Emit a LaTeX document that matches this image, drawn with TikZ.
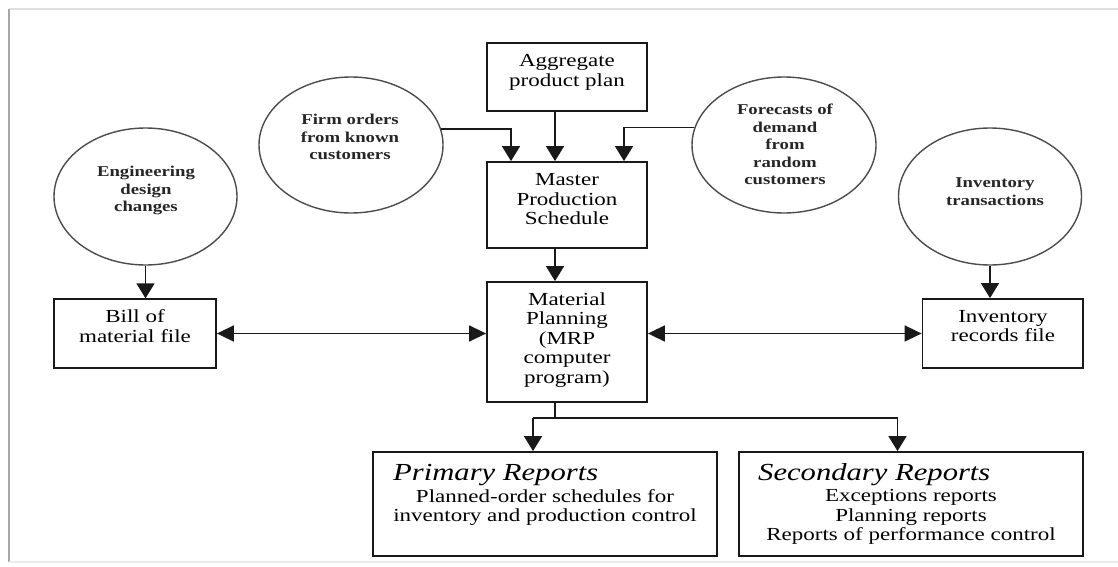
\documentclass[tikz,border=0pt]{standalone}
\usepackage{fontspec}
\setmainfont{Liberation Serif}[FakeStretch=1.25]
\usetikzlibrary{arrows.meta,shapes.geometric}
\begin{document}
\begin{tikzpicture}[x=1pt,y=-1pt,
  box/.style={draw=black!90,fill=white,line width=1.8pt,rectangle,inner sep=0pt},
  oval/.style={draw=black!70,fill=white,line width=1.4pt,ellipse,inner sep=0pt},
  btxt/.style={align=center,font=\fontsize{18.4}{19.5}\selectfont,inner sep=0pt},
  etxt/.style={align=center,font=\bfseries\fontsize{15}{17.5}\selectfont,text=black!85,inner sep=0pt},
  head/.style={font=\itshape\fontsize{24.5}{26}\selectfont,inner sep=0pt,anchor=base west},
  link/.style={line width=1.6pt,draw=black!90},
  arr/.style={link,-{Triangle[width=18pt,length=15pt]}},
  darr/.style={link,{Triangle[width=16pt,length=17pt]}-{Triangle[width=16pt,length=17pt]}},
]
\useasboundingbox (0,0) rectangle (1118,567);
% page frame
\draw[black!12,line width=1.5pt] (9,9) -- (1118,9);
\draw[black!35,line width=2pt] (9,9) -- (9,562);
\draw[black!8,line width=1.2pt] (9,562) -- (1118,562);

% boxes
\node[box,minimum width=160pt,minimum height=68pt] (agg) at (567,77) {};
\node[box,minimum width=160pt,minimum height=86pt] (mps) at (567,205) {};
\node[box,minimum width=160pt,minimum height=120pt] (mrp) at (567,342) {};
\node[box,minimum width=162pt,minimum height=68.5pt] (bom) at (135,333.5) {};
\node[box,minimum width=160.5pt,minimum height=69pt] (inv) at (1002.75,333.5) {};
\node[box,minimum width=344pt,minimum height=104pt] (prim) at (545,504) {};
\node[box,minimum width=344pt,minimum height=104pt] (sec) at (911,504) {};

% ellipses
\node[oval,minimum width=183pt,minimum height=137pt] (eng) at (145.5,196.5) {};
\node[oval,minimum width=184pt,minimum height=136pt] (firm) at (351,145) {};
\node[oval,minimum width=184pt,minimum height=136pt] (fore) at (784,145) {};
\node[oval,minimum width=183pt,minimum height=137pt] (invtr) at (990,196.5) {};

% texts
\node[btxt] (aggt) at (567,72.3) {Aggregate\\product plan};
\node[btxt] (mpst) at (567,199.4) {Master\\Production\\Schedule};
\node[btxt] (mrpt) at (567,339.6) {Material\\Planning\\(MRP\\computer\\program)};
\node[btxt] (bomt) at (135,326) {Bill of\\material file};
\node[btxt] (invt) at (1003,326) {Inventory\\records file};

\node[etxt] (engt) at (146,190.7) {Engineering\\design\\changes};
\node[etxt] (firmt) at (350,137.3) {Firm orders\\from known\\customers};
\node[etxt] (foret) at (785,144.75) {Forecasts of\\demand\\from\\random\\customers};
\node[etxt] (invtrt) at (995,191.6) {Inventory\\transactions};

\node[head] (primh) at (393,480) {Primary Reports};
\node[btxt,font=\fontsize{18.4}{19}\selectfont] (primb) at (545,507.8) {Planned-order schedules for\\inventory and production control};
\node[head] (sech) at (758,480) {Secondary Reports};
\node[btxt] (secb) at (911,517.1) {Exceptions reports\\Planning reports\\Reports of performance control};

% helper coordinates
\coordinate (xc) at (555,0);
\coordinate (xf) at (511,0);
\coordinate (xr) at (624,0);
\coordinate (bl) at (533,418);
\coordinate (brr) at (897.5,418);

% connectors
\draw[arr] (firm.10.8) -| (xf |- mps.north);
\draw[arr] (fore.169.2) -| (xr |- mps.north);
\draw[arr] (agg.south -| xc) -- (mps.north -| xc);
\draw[arr] (mps.south -| xc) -- (mrp.north -| xc);
\draw[arr] (eng.south) -- (eng.south |- bom.north);
\draw[arr] (invtr.south) -- (invtr.south |- inv.north);
\draw[darr] (bom.east) -- (bom.east -| mrp.west);
\draw[darr] (mrp.east |- inv.west) -- (inv.west);
\draw[link] (mrp.south -| xc) -- (xc |- bl);
\draw[arr] (bl) -- (bl |- prim.north);
\draw[arr] (bl) -- (brr) -- (brr |- sec.north);
\end{tikzpicture}
\end{document}
